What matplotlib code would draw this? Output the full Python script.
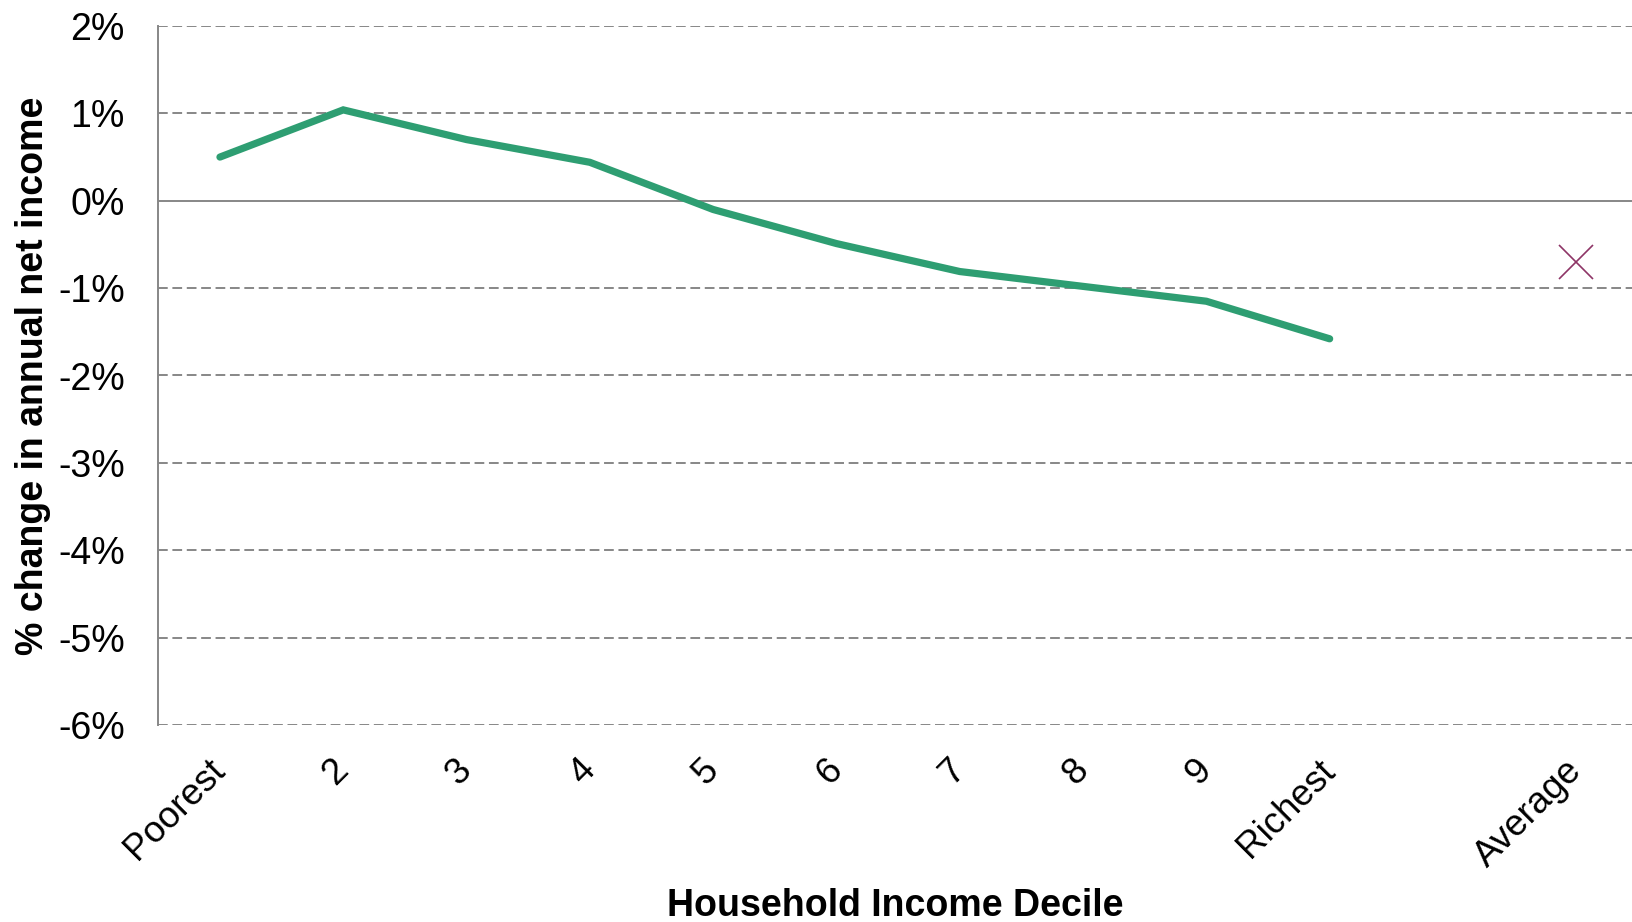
import matplotlib
matplotlib.use("Agg")
import matplotlib.pyplot as plt
import numpy as np

plt.rcParams['font.family'] = ['Liberation Sans', 'DejaVu Sans']

categories = ["Poorest", "2", "3", "4", "5", "6", "7", "8", "9", "Richest", "", "Average"]
decile_values = [0.50, 1.04, 0.70, 0.44, -0.10, -0.49, -0.81, -0.98, -1.15, -1.58]
average_value = -0.70
yticks = [2, 1, 0, -1, -2, -3, -4, -5, -6]
ytick_labels = ["2%", "1%", "0%", "-1%", "-2%", "-3%", "-4%", "-5%", "-6%"]

W, H = 1633, 922
fig = plt.figure(figsize=(W / 100, H / 100), dpi=100)
left_px, right_px, top_px, bottom_px = 158.3, 1633, 26, 725
ax = fig.add_axes([left_px / W, 1 - bottom_px / H, (right_px - left_px) / W, (bottom_px - top_px) / H])

spacing_px = 123.3
x = np.arange(len(categories))
ax.set_xlim(-0.5, -0.5 + (right_px - left_px) / spacing_px)
ax.set_ylim(-6, 2)

grid_color = "#878787"
for t in yticks:
    if t == 0:
        ax.axhline(t, color=grid_color, lw=1.4, zorder=1)
    else:
        ax.axhline(t, color=grid_color, lw=1.4, dashes=(5, 2.4), zorder=1)

ax.plot(x[:len(decile_values)], decile_values, color="#2E9E72", lw=5.2,
        solid_capstyle='round', solid_joinstyle='miter', zorder=3)
ax.plot([x[-1]], [average_value], marker='x', linestyle='none', color="#8E3566",
        markersize=24, markeredgewidth=1.2, zorder=3)

for s in ["top", "right", "bottom"]:
    ax.spines[s].set_visible(False)
ax.spines["left"].set_color(grid_color)
ax.spines["left"].set_linewidth(1.4)

ax.set_yticks(yticks)
ax.set_yticklabels(ytick_labels, fontsize=27)
ax.tick_params(axis='y', length=0, pad=24)

ax.set_xticks(x)
ax.set_xticklabels(categories, fontsize=26.5, rotation=45, ha='right', va='center',
                   rotation_mode='anchor')
ax.tick_params(axis='x', length=0, pad=29)

ax.set_xlabel("Household Income Decile", fontsize=27, fontweight='bold', va='center')
ax.xaxis.set_label_coords(0.5, (bottom_px - 906) / (bottom_px - top_px))
ax.set_ylabel("% change in annual net income", fontsize=27, fontweight='bold',
              va='center', ha='center')
ax.yaxis.set_label_coords((33 - left_px) / (right_px - left_px), 0.5)

fig.savefig("out.png", dpi=100)
